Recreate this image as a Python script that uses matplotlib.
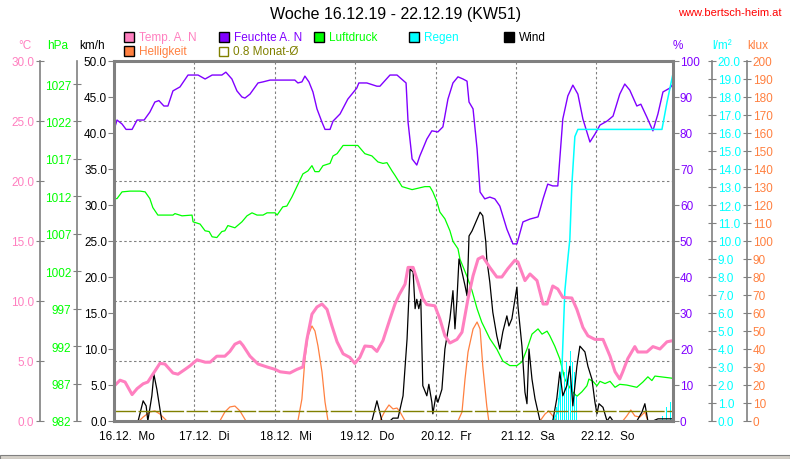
import numpy as np
import matplotlib
matplotlib.use('Agg')
import matplotlib.pyplot as plt
from matplotlib.patches import Rectangle
from matplotlib.transforms import ScaledTranslation

plt.rcParams['font.family'] = ['Liberation Sans', 'DejaVu Sans']

# --- data (hours since 16.12. 00:00) ---
days = ['16.12.  Mo', '17.12.  Di', '18.12.  Mi', '19.12.  Do', '20.12.  Fr', '21.12.  Sa', '22.12.  So']

hum_h = [0, 0.9, 2.4, 3.6, 5.4, 6.9, 9.0, 10.7, 12.2, 13.4, 14.9, 16.1, 17.6, 19.7, 22.1, 25.1, 27.2, 29.3,
         32.2, 33.4, 35.2, 36.7, 38.2, 39.1, 40.6, 43.0, 44.5, 46.6, 54.0, 54.9, 56.1, 57.0, 58.2, 59.4,
         60.6, 62.1, 63.0, 64.5, 65.4, 67.5, 69.8, 72.5, 73.1, 75.5, 78.5, 79.4, 82.4, 84.5, 87.2, 87.8,
         89.0, 90.4, 91.3, 92.2, 93.4, 94.9, 96.7, 98.2, 99.7, 101.2, 102.7, 104.2, 105.4, 106.0, 107.2,
         108.4, 109.3, 110.7, 112.2, 113.7, 115.2, 117.3, 119.1, 120.3, 122.1, 124.2, 126.6, 128.1, 129.5,
         131.0, 132.5, 134.0, 135.5, 137.0, 138.5, 140.0, 142.1, 143.6, 145.1, 147.2, 149.0, 151.0, 152.5,
         154.0, 156.1, 157.3, 159.1, 160.9, 162.4, 163.9, 166.0, 166.9]
hum_v = [80.8, 83.6, 82.5, 81.0, 81.0, 83.6, 83.6, 85.8, 88.6, 89.0, 87.5, 87.5, 91.7, 92.8, 96.1, 96.1, 95.0, 96.1,
         96.1, 96.9, 95.0, 91.7, 90.0, 89.7, 90.8, 93.9, 94.2, 94.7, 94.7, 93.9, 94.2, 95.8, 94.2, 91.4,
         86.7, 83.0, 81.0, 81.0, 83.3, 85.3, 89.4, 92.5, 93.9, 93.9, 93.0, 93.0, 96.1, 96.1, 93.9, 83.0,
         72.8, 71.1, 73.6, 75.6, 78.3, 80.6, 80.3, 81.7, 89.4, 93.9, 95.6, 95.0, 94.4, 88.6, 86.7,
         75.6, 63.6, 61.7, 62.2, 61.7, 59.7, 53.3, 49.2, 49.2, 55.3, 56.1, 56.7, 61.7, 65.8,
         65.3, 65.3, 83.9, 90.3, 93.3, 90.8, 83.9, 77.5, 79.7, 82.2, 83.3, 84.7, 90.8, 93.6,
         91.9, 87.5, 88.0, 84.4, 80.6, 85.3, 91.4, 92.5, 93.6]

pres_h = [0, 0.9, 2.4, 4.8, 7.8, 9.3, 10.7, 11.6, 13.1, 17.6, 18.2, 20.3, 23.3, 23.6, 25.7, 27.2, 28.4, 29.3,
          30.7, 32.2, 33.1, 34.0, 36.1, 38.2, 39.7, 41.2, 42.7, 44.5, 45.7, 48.1, 48.7, 50.4, 51.6, 53.1,
          54.6, 56.4, 57.9, 59.1, 60.0, 61.2, 62.4, 64.5, 65.4, 66.6, 68.4, 72.8, 74.9, 77.0, 78.8, 80.3,
          81.5, 83.0, 83.9, 86.0, 89.0, 92.8, 94.3, 95.2, 96.4, 97.3, 98.8, 100.3, 101.2, 102.7, 103.3,
          105.4, 106.9, 108.4, 109.8, 112.2, 114.3, 116.1, 118.2, 120.3, 121.8, 123.3, 124.8, 126.6, 127.8,
          129.3, 130.1, 131.6, 133.1, 134.6, 136.7, 138.2, 139.7, 141.2, 141.8, 143.0, 144.2, 145.1, 146.6,
          148.1, 149.6, 151.0, 153.1, 156.1, 157.9, 159.4, 160.6, 161.5, 166.9]
pres_v = [1011.7, 1011.7, 1012.6, 1012.7, 1012.7, 1012.6, 1011.7, 1010.5, 1009.5, 1009.5, 1009.7, 1009.4, 1009.5,
          1008.6, 1008.3, 1007.4, 1007.3, 1006.6, 1006.5, 1007.3, 1007.4, 1008.1, 1007.8, 1008.6, 1009.4,
          1009.8, 1009.5, 1009.5, 1009.8, 1009.8, 1009.5, 1010.6, 1010.7, 1011.9, 1013.3, 1015.0, 1015.4,
          1016.1, 1015.3, 1015.3, 1016.1, 1016.4, 1017.4, 1017.7, 1018.8, 1018.8, 1017.7, 1017.4, 1016.6,
          1016.4, 1016.5, 1015.4, 1014.8, 1013.3, 1012.9, 1013.3, 1013.3, 1012.6, 1011.3, 1009.9, 1009.0,
          1007.4, 1006.0, 1005.0, 1003.6, 1001.3, 999.4, 997.0, 995.2, 993.0, 991.6, 990.0, 989.4, 989.4,
          989.9, 991.6, 993.6, 994.3, 993.6, 994.0, 993.4, 992.0, 990.3, 987.6, 986.0, 985.3, 985.9, 986.7,
          987.6, 987.3, 986.7, 987.3, 987.0, 987.3, 986.5, 986.9, 986.8, 986.5, 987.2, 987.9, 987.4, 988.0,
          987.7]

temp_h = [0, 1.8, 3.3, 5.4, 6.9, 8.7, 10.1, 11.6, 13.7, 15.2, 17.6, 19.1, 21.2, 22.7, 24.8, 27.2, 28.7, 30.7,
          33.1, 34.6, 36.1, 37.6, 38.5, 40.6, 43.0, 45.7, 48.1, 49.6, 52.5, 54.6, 56.4, 57.6, 59.1, 60.6,
          62.1, 63.6, 65.1, 66.6, 68.4, 70.4, 71.9, 73.4, 74.9, 77.0, 78.5, 80.3, 82.4, 83.9, 85.1, 86.9,
          87.8, 89.3, 90.7, 92.2, 93.4, 95.8, 97.3, 98.8, 100.3, 102.4, 103.9, 105.7, 107.2, 108.7, 110.1,
          112.2, 114.3, 115.8, 117.6, 119.7, 120.6, 122.7, 124.2, 126.3, 128.1, 129.3, 131.0, 132.5, 134.0,
          136.7, 138.2, 140.0, 141.5, 143.6, 146.0, 148.1, 149.6, 151.0, 151.9, 153.4, 155.5, 156.4, 159.1,
          160.9, 163.0, 165.1, 166.9]
temp_v = [2.9, 3.4, 3.25, 2.2, 2.7, 3.1, 3.25, 3.9, 4.8, 4.75, 4.0, 3.9, 4.3, 4.6, 5.1, 4.9, 4.9, 5.4,
          5.4, 5.8, 6.4, 6.6, 6.3, 5.4, 4.75, 4.5, 4.3, 4.1, 4.0, 4.3, 4.5, 6.8, 8.9, 9.5,
          9.75, 9.3, 7.9, 6.6, 5.6, 5.3, 4.8, 5.3, 6.25, 6.2, 5.8, 6.7, 8.5, 9.75, 10.5, 11.4,
          12.8, 12.8, 11.6, 10.2, 9.7, 9.6, 8.5, 7.1, 6.5, 6.8, 7.4, 10.2, 12.1, 13.5, 13.7,
          12.8, 12.0, 12.0, 12.7, 13.4, 13.25, 11.7, 12.25, 11.7, 9.75, 9.75, 11.25, 11.0, 10.3,
          10.25, 9.3, 7.8, 7.1, 6.8, 6.8, 5.4, 4.1, 3.5, 4.1, 5.2, 6.2, 5.75, 5.75,
          6.2, 6.0, 6.6, 6.7]

wind_h = [0, 7.2, 8.7, 9.6, 10.1, 11.3, 11.9, 12.8, 13.7, 14.3, 77.0, 78.5, 80.0, 82.4, 83.3, 84.8, 86.3, 87.5,
          88.4, 89.3, 89.9, 90.4, 91.0, 91.6, 92.2, 93.4, 94.0, 94.9, 95.2, 96.1, 96.7, 97.9, 98.8, 100.3,
          101.2, 101.8, 102.4, 103.0, 103.9, 104.8, 105.4, 106.0, 106.9, 109.3, 110.1, 111.0, 111.3, 112.2,
          113.1, 114.3, 115.2, 116.1, 117.3, 117.9, 118.8, 119.4, 120.3, 120.6, 121.8, 122.7, 123.3, 123.9,
          124.8, 125.7, 127.2, 131.0, 132.2, 133.1, 134.0, 135.2, 136.1, 137.0, 138.2, 139.1, 140.6, 141.5,
          142.7, 143.6, 144.2, 144.8, 146.0, 147.2, 148.1, 149.0, 156.1, 157.6, 158.5, 159.4, 160.9, 162.4,
          166.9]
wind_v = [0, 0, 2.8, 2.1, 0, 3.5, 6.5, 4.4, 1.7, 0, 0, 2.8, 0, 0, 0.4, 0.4, 3.5, 11.4,
          21.1, 20.7, 15.6, 16.9, 15.6, 16.9, 4.9, 3.5, 5.1, 2.6, 1.0, 3.5, 2.6, 4.4, 10.0, 14.2,
          18.1, 12.8, 16.9, 22.5, 20.7, 18.8, 17.4, 25.7, 26.4, 29.0, 28.5, 24.9, 22.5, 19.3,
          15.1, 11.8, 10.0, 12.4, 14.6, 13.2, 14.2, 16.0, 18.6, 16.0, 10.4, 4.0, 2.4, 10.0,
          5.8, 3.1, 0, 0, 3.1, 6.8, 3.5, 4.9, 7.6, 2.1, 7.6, 10.4, 9.6, 7.6,
          5.8, 2.6, 1.0, 2.4, 1.9, 0, 0.6, 0, 0, 1.2, 2.4, 0, 0, 0.3,
          0.3]

lux_h = [0, 7.5, 8.7, 10.7, 12.2, 13.7, 15.8, 31.6, 33.1, 34.6, 36.1, 37.6, 39.4, 54.9, 56.1, 57.0, 57.9,
         59.1, 60.0, 60.9, 62.1, 63.0, 63.9, 79.4, 80.9, 82.1, 83.3, 84.5, 85.4, 86.9, 102.7, 103.9, 104.8,
         105.7, 107.2, 108.4, 109.3, 110.1, 111.3, 111.9, 127.2, 128.7, 129.8, 131.0, 132.2, 151.9, 153.1,
         154.3, 155.5, 157.0, 158.5, 159.4, 166.9]
lux_v = [0, 0, 2.2, 5.0, 5.6, 3.9, 0, 0, 5.0, 7.8, 8.3, 5.6, 0, 0, 12.2, 34.4, 47.2,
         52.8, 50.0, 41.7, 27.2, 10.6, 0, 0, 5.6, 8.9, 6.7, 7.2, 5.0, 0, 0, 5.0, 23.3,
         38.3, 51.1, 55.0, 51.1, 30.6, 8.3, 0, 0, 3.9, 5.6, 2.8, 0, 0, 2.8,
         6.1, 2.8, 2.2, 5.0, 0, 0]

rain_sum_h = [0, 131.0, 132.5, 133.7, 134.6, 135.5, 136.1, 136.7, 137.6, 138.5, 163.6, 165.1, 166.9]
rain_sum_v = [0, 0, 0.5, 2.7, 7.2, 9.0, 10.1, 13.1, 15.8, 16.2, 16.2, 17.7, 19.3]

rain_bar_h = [131.6, 132.2, 132.8, 133.4, 134.0, 134.6, 135.2, 135.8, 136.4, 137.0, 137.6, 138.2,
              163.9, 165.1, 166.3]
rain_bar_v = [0.2, 0.8, 1.3, 2.2, 1.6, 2.7, 3.3, 2.7, 3.9, 3.3, 2.7, 1.4, 0.3, 0.8, 1.05]

month_mean = 0.8  # degC

# colours
c_temp = '#FF80C0'
c_hum = '#8000FF'
c_pres = '#00FF00'
c_rain = '#00FFFF'
c_wind = '#000000'
c_lux = '#FF8040'
c_mean = '#808000'
gray = '#808080'

W_PX, H_PX = 790, 460
fig = plt.figure(figsize=(7.9, 4.6), dpi=100)
x0, x1, y0, y1 = 114, 673, 62, 422
rect = [x0 / W_PX, 1 - y1 / H_PX, (x1 - x0) / W_PX, (y1 - y0) / H_PX]
wpx = x1 - x0

base = fig.add_axes(rect)  # degC + grid
base.set_xlim(0, 166.9)
base.set_ylim(0, 30)
base.set_xticks(np.arange(0, 145, 24))
base.set_xticklabels(days)
base.tick_params(axis='x', length=0, pad=6.5, labelsize=8.5)
for lab in base.get_xticklabels():
    lab.set_horizontalalignment('left')
    lab.set_transform(lab.get_transform() + ScaledTranslation(-15 / 100, 0, fig.dpi_scale_trans))
base.set_yticks(np.arange(0, 30.1, 5))
base.set_yticklabels(['%.1f' % v for v in np.arange(0, 30.1, 5)])
base.grid(True, color=gray, linestyle=(0, (2.2, 2.2)), linewidth=0.8)
for s in ['top', 'right', 'bottom']:
    base.spines[s].set_visible(False)
base.spines['left'].set_position(('axes', (40 - x0) / wpx))
base.spines['left'].set_color(gray)
base.spines['left'].set_linewidth(1.2)
base.tick_params(axis='y', direction='inout', length=6, color=gray, labelcolor=c_temp, labelsize=8.5, pad=1)


def twin(side, pos):
    a = base.twinx()
    a.patch.set_visible(False)
    for s in ['top', 'right', 'bottom', 'left']:
        a.spines[s].set_visible(False)
    a.yaxis.set_ticks_position(side)
    a.yaxis.set_label_position(side)
    if pos is not None:
        a.spines[side].set_visible(True)
        a.spines[side].set_position(('axes', pos))
        a.spines[side].set_color(gray)
        a.spines[side].set_linewidth(1.2)
    return a


ax_l = twin('right', (747 - x0) / wpx)
ax_l.set_ylim(0, 200)
ax_l.set_yticks(np.arange(0, 201, 10))
ax_l.tick_params(axis='y', direction='inout', length=6, color=gray, labelcolor=c_lux, labelsize=8.5, pad=1)
ax_l.plot(lux_h, lux_v, color=c_lux, lw=0.9)

ax_p = twin('left', (77 - x0) / wpx)
ax_p.set_ylim(982, 982 + 360 / 37.44 * 5)
ax_p.set_yticks(np.arange(982, 1028, 5))
ax_p.tick_params(axis='y', direction='inout', length=6, color=gray, labelcolor=c_pres, labelsize=8.5, pad=1)
ax_p.plot(pres_h, pres_v, color=c_pres, lw=0.9)

ax_h = twin('right', None)
ax_h.set_ylim(0, 100)
ax_h.set_yticks(np.arange(0, 101, 10))
ax_h.tick_params(axis='y', direction='out', length=4, color=gray, labelcolor=c_hum, labelsize=8.5, pad=1)
ax_h.plot(hum_h, hum_v, color=c_hum, lw=1.0)

ax_r = twin('right', (712 - x0) / wpx)
ax_r.set_ylim(0, 20)
ax_r.set_yticks(np.arange(0, 20.1, 1))
ax_r.set_yticklabels(['%.1f' % v for v in np.arange(0, 20.1, 1)])
ax_r.tick_params(axis='y', direction='inout', length=6, color=gray, labelcolor=c_rain, labelsize=8.5, pad=1)
ax_r.bar(rain_bar_h, rain_bar_v, width=0.3, color=c_rain, linewidth=0, antialiased=False)
ax_r.plot(rain_sum_h, rain_sum_v, color=c_rain, lw=1.1)

ax_w = twin('left', None)
ax_w.set_ylim(0, 50)
ax_w.set_yticks(np.arange(0, 50.1, 5))
ax_w.set_yticklabels(['%.1f' % v for v in np.arange(0, 50.1, 5)])
ax_w.tick_params(axis='y', direction='out', length=4, color=gray, labelcolor='black', labelsize=8.5, pad=1)
ax_w.plot(wind_h, wind_v, color=c_wind, lw=0.9)

ax_t = twin('left', None)
ax_t.set_ylim(0, 30)
ax_t.set_yticks([])
ax_t.plot(temp_h, temp_v, color=c_temp, lw=2.2, solid_joinstyle='round')
ln, = ax_t.plot([0, 166.9], [month_mean, month_mean], color=c_mean, lw=1.0)
ln.set_dashes((15.5, 1.8))
for s in ['top', 'right', 'bottom', 'left']:
    ax_t.spines[s].set_visible(True)
    ax_t.spines[s].set_color(gray)
    ax_t.spines[s].set_linewidth(2.2)
    ax_t.spines[s].set_position(('axes', 0) if s in ('left', 'bottom') else ('axes', 1))


def ftext(x, y, s, **kw):
    fig.text(x / W_PX, 1 - y / H_PX, s, **kw)


ftext(396, 15, 'Woche 16.12.19 - 22.12.19 (KW51)', ha='center', va='center', fontsize=11.5)
ftext(782, 13, 'www.bertsch-heim.at', ha='right', va='center', fontsize=8, color='#FF0000')

for x, s, c in [(25, '°C', c_temp), (58, 'hPa', c_pres), (92, 'km/h', 'black'),
                (678, '%', c_hum), (722, 'l/m²', c_rain), (758, 'klux', c_lux)]:
    ftext(x, 46, s, ha='center', va='center', fontsize=8.5, color=c)

legend = [(124, 38, 'Temp. A. N', c_temp), (219, 38, 'Feuchte A. N', c_hum), (314, 38, 'Luftdruck', c_pres),
          (409, 38, 'Regen', c_rain), (504, 38, 'Wind', c_wind), (124, 52, 'Helligkeit', c_lux)]
for x, y, s, c in legend:
    fig.add_artist(Rectangle((x / W_PX, 1 - (y + 5) / H_PX), 10 / W_PX, 10 / H_PX,
                             transform=fig.transFigure, fc=c, ec='black', lw=1))
    ftext(x + 15, y, s, ha='left', va='center', fontsize=8.5, color=c if c != c_wind else 'black')
fig.add_artist(Rectangle((219 / W_PX, 1 - 57 / H_PX), 9 / W_PX, 9 / H_PX,
                         transform=fig.transFigure, fc='none', ec=c_mean, lw=1))
ftext(233, 52, '0.8 Monat-Ø', ha='left', va='center', fontsize=8.5, color=c_mean)

# status bar at the bottom
fig.add_artist(Rectangle((0, 0), 1, 4 / H_PX, transform=fig.transFigure, fc='#D4D0C8', ec=gray, lw=0.8))

fig.savefig('out.png', dpi=100)
